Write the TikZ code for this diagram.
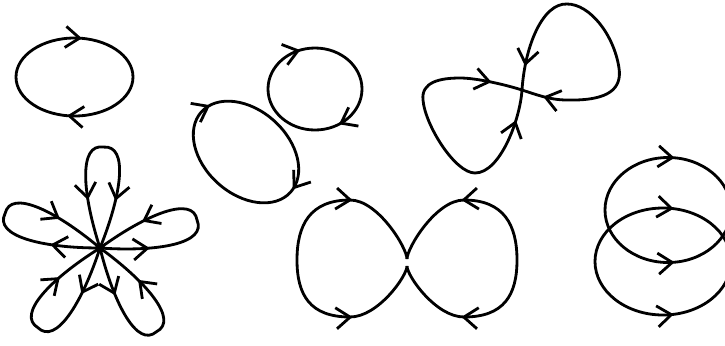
\documentclass[tikz,border=0pt]{standalone}
\usepackage{tikz}
\usetikzlibrary{arrows.meta,decorations.markings}

\tikzset{
  loopline/.style={line width=2pt},
  fwd/.style={postaction={decorate,decoration={markings,
      mark=at position #1 with {\arrow{Straight Barb[length=10pt,width=15pt]}}}}},
  bwd/.style={postaction={decorate,decoration={markings,
      mark=at position #1 with {\arrowreversed{Straight Barb[length=10pt,width=15pt]}}}}},
}

\begin{document}
\begin{tikzpicture}[x=0.025cm, y=-0.025cm]
    \clip (0,0) rectangle (725,345);

    % ellipse top left
    \draw[loopline, fwd=0.774, fwd=0.274] (74.5,77) ellipse [x radius=58.5, y radius=39];

    % two separate loops
    \draw[loopline, fwd=0.696, fwd=0.16] (315,89) ellipse [x radius=47, y radius=41];
    \draw[loopline, rotate around={-42:(246,152)}, fwd=0.534, fwd=0.989]
        (246,152) ellipse [x radius=60, y radius=42];

    % crossing curve top right
    \coordinate (X) at (522,90);
    \draw[loopline, bwd=0.036, fwd=0.463, bwd=0.552, fwd=0.949]
        (X) .. controls (536,94.5) and (550,100) .. (567,100)
        .. controls (610,101) and (622,88) .. (619,68)
        .. controls (614,35) and (590,4) .. (567,4)
        .. controls (543,3) and (525,45) .. (X)
        .. controls (520,120) and (500,173) .. (475,173)
        .. controls (455,173) and (425,125) .. (423,100)
        .. controls (421,82) and (440,78) .. (460,78)
        .. controls (478,78) and (508,85.5) .. (X);

    % five petals
    \coordinate (S) at (100,248);
    \foreach \ang/\one/\two in {-2/bwd/fwd, 70/fwd/fwd, 142/fwd/fwd, 214/bwd/bwd, 286/bwd/bwd}
        \draw[loopline, shift={(S)}, rotate=\ang, \one=0.22, \two=0.78]
            (0,0) .. controls (-20,-55) and (-25,-104) .. (0,-101)
            .. controls (25,-104) and (20,-55) .. (0,0);

    % two lobes touching
    \coordinate (Jt) at (407,259); \coordinate (Jb) at (407,266);
    \draw[loopline, bwd=0.241, fwd=0.776]
        (Jt) .. controls (407,248) and (378,200) .. (350,200)
        .. controls (310,200) and (297,225) .. (297,260)
        .. controls (297,295) and (310,317) .. (350,317)
        .. controls (378,317) and (407,276) .. (Jb);
    \draw[loopline, bwd=0.241, fwd=0.776]
        (Jt) .. controls (407,248) and (436,200) .. (464,200)
        .. controls (504,200) and (517,225) .. (517,260)
        .. controls (517,295) and (504,317) .. (464,317)
        .. controls (436,317) and (407,276) .. (Jb);

    % overlapping ellipses right
    \draw[loopline, fwd=0.768, bwd=0.232] (668,210) ellipse [x radius=63, y radius=52.5];
    \draw[loopline, fwd=0.778, bwd=0.222] (663,261.5) ellipse [x radius=68, y radius=53.5];
\end{tikzpicture}
\end{document}
